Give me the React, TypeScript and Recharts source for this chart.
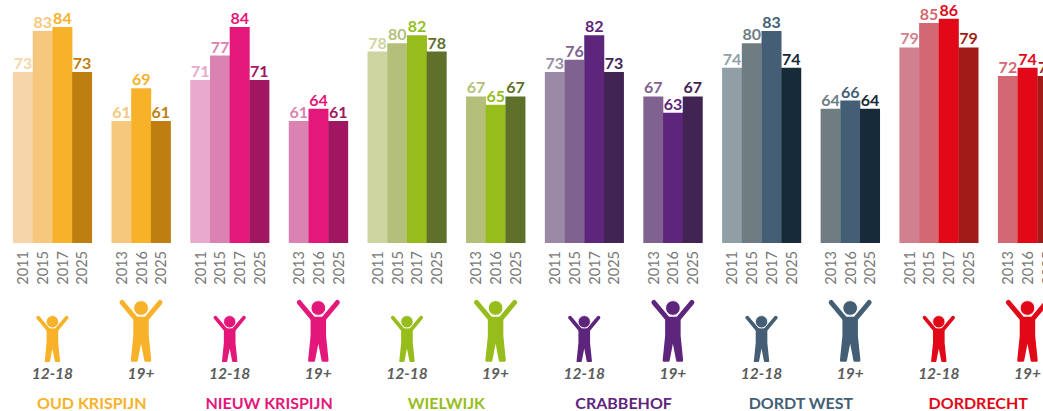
import { Bar, BarChart, Cell, LabelList, XAxis, YAxis } from "recharts";

const districts = ["OUD KRISPIJN", "NIEUW KRISPIJN", "WIELWIJK", "CRABBEHOF", "DORDT WEST", "DORDRECHT"];
const youthYears = ["2011", "2015", "2017", "2025"];
const adultYears = ["2013", "2016", "2025"];

const youthValues = [
  [73, 83, 84, 73],
  [71, 77, 84, 71],
  [78, 80, 82, 78],
  [73, 76, 82, 73],
  [74, 80, 83, 74],
  [79, 85, 86, 79],
];
const adultValues = [
  [61, 69, 61],
  [61, 64, 61],
  [67, 65, 67],
  [67, 63, 67],
  [64, 66, 64],
  [72, 74, 72],
];

// lightest to darkest, the third one is the district's own colour
const palettes = [
  ["#f6d6a8", "#f6c87e", "#f8b229", "#bf7e10"],
  ["#e9a9cc", "#da83b3", "#e4187a", "#a11661"],
  ["#ced4a0", "#b4bf7a", "#97bd1d", "#5e702a"],
  ["#9a8aa5", "#806290", "#5e257d", "#412453"],
  ["#8f9fa5", "#6f7d83", "#445f75", "#172a39"],
  ["#d0808f", "#d36772", "#e10918", "#a11c18"],
];

const FONT = "Lato, sans-serif";
const CHART_WIDTH = 1057;
const CHART_HEIGHT = 411;
const LEFT = 13;
const PLOT_BOTTOM = 243;

interface Row {
  slot: string;
  value: number | null;
  year?: string;
  color?: string;
  district: number;
  mark?: "youth" | "adult";
  title?: boolean;
}

// one flat band per bar, an empty band between the groups
const rows: Row[] = [];
districts.forEach((_, d) => {
  youthYears.forEach((year, i) => {
    rows.push({
      slot: `${rows.length}`,
      value: youthValues[d][i],
      year,
      color: palettes[d][i],
      district: d,
      mark: i === 1 ? "youth" : undefined,
      title: i === 3,
    });
  });
  rows.push({ slot: `${rows.length}`, value: null, district: d });
  adultYears.forEach((year, i) => {
    rows.push({
      slot: `${rows.length}`,
      value: adultValues[d][i],
      year,
      color: palettes[d][i + 1],
      district: d,
      mark: i === 1 ? "adult" : undefined,
    });
  });
  if (d < districts.length - 1) rows.push({ slot: `${rows.length}`, value: null, district: d });
});

// LabelList skips the empty bands, so its index runs over this list
const barRows = rows.filter((row) => row.value != null);

const slotWidth = (CHART_WIDTH - LEFT) / rows.length;

function Person({ x, foot, scale, headRadius, color }: { x: number; foot: number; scale: number; headRadius: number; color: string }) {
  return (
    <g transform={`translate(${x} ${foot}) scale(${scale})`} fill={color}>
      <path d="M-19 -60.5 L-6 -45 M19 -60.5 L6 -45" stroke={color} strokeWidth={5} strokeLinecap="round" fill="none" />
      <path
        d="M-6.5 -45 L6.5 -45 L6.5 -27 L9 -2.5 L4.5 -2.5 L0 -26 L-4.5 -2.5 L-9 -2.5 L-6.5 -27 Z"
        stroke={color}
        strokeWidth={2.5}
        strokeLinejoin="round"
      />
      <circle cx={0} cy={-55} r={headRadius} stroke="#fff" strokeWidth={1} />
    </g>
  );
}

function SlotTick({ x, y, index }: { x: number; y: number; index: number }) {
  const row = rows[index];
  if (!row || !row.year) return null;
  const own = palettes[row.district][2];
  const isYouth = row.mark === "youth";
  const markX = isYouth ? x + slotWidth / 2 : x;

  return (
    <g>
      <text
        x={x}
        y={y}
        transform={`rotate(-90 ${x} ${y})`}
        textAnchor="end"
        dominantBaseline="central"
        fontFamily={FONT}
        fontSize={14.5}
        fill="#777"
      >
        {row.year}
      </text>
      {row.mark && (
        <>
          <Person x={markX} foot={y + 112} scale={isYouth ? 0.75 : 1} headRadius={isYouth ? 8.2 : 7.4} color={own} />
          <text
            x={markX}
            y={y + 128}
            textAnchor="middle"
            fontFamily={FONT}
            fontSize={15.5}
            fontStyle="italic"
            fontWeight={700}
            fill="#5c5c5c"
          >
            {isYouth ? "12-18" : "19+"}
          </text>
        </>
      )}
      {row.title && (
        <text
          x={x + slotWidth / 2}
          y={y + 158}
          textAnchor="middle"
          fontFamily={FONT}
          fontSize={16}
          fontWeight={700}
          fill={own}
        >
          {districts[row.district]}
        </text>
      )}
    </g>
  );
}

function ValueLabel({ x, y, width, value, index }: any) {
  if (value == null) return null;
  return (
    <text
      x={x + width / 2}
      y={y - 3}
      textAnchor="middle"
      fontFamily={FONT}
      fontSize={16}
      fontWeight={700}
      fill={barRows[index].color}
    >
      {value}
    </text>
  );
}

export default function App() {
  return (
    <div style={{ position: "absolute", left: 0, top: 0, width: 1043, height: 411, overflow: "hidden", background: "#fff" }}>
      <BarChart
        width={CHART_WIDTH}
        height={CHART_HEIGHT}
        data={rows}
        barCategoryGap={0}
        barGap={0}
        margin={{ top: 0, right: 0, bottom: 0, left: LEFT }}
      >
        <XAxis
          dataKey="slot"
          interval={0}
          height={CHART_HEIGHT - PLOT_BOTTOM}
          axisLine={false}
          tickLine={false}
          tickSize={0}
          tickMargin={8}
          tick={(props: any) => <SlotTick x={props.x} y={props.y} index={props.index} />}
        />
        {/* the source axis does not start at zero */}
        <YAxis hide domain={[31.15, 90.6]} allowDataOverflow />
        <Bar dataKey="value" isAnimationActive={false}>
          {rows.map((row) => (
            <Cell key={row.slot} fill={row.color ?? "none"} />
          ))}
          <LabelList dataKey="value" content={ValueLabel} />
        </Bar>
      </BarChart>
    </div>
  );
}
